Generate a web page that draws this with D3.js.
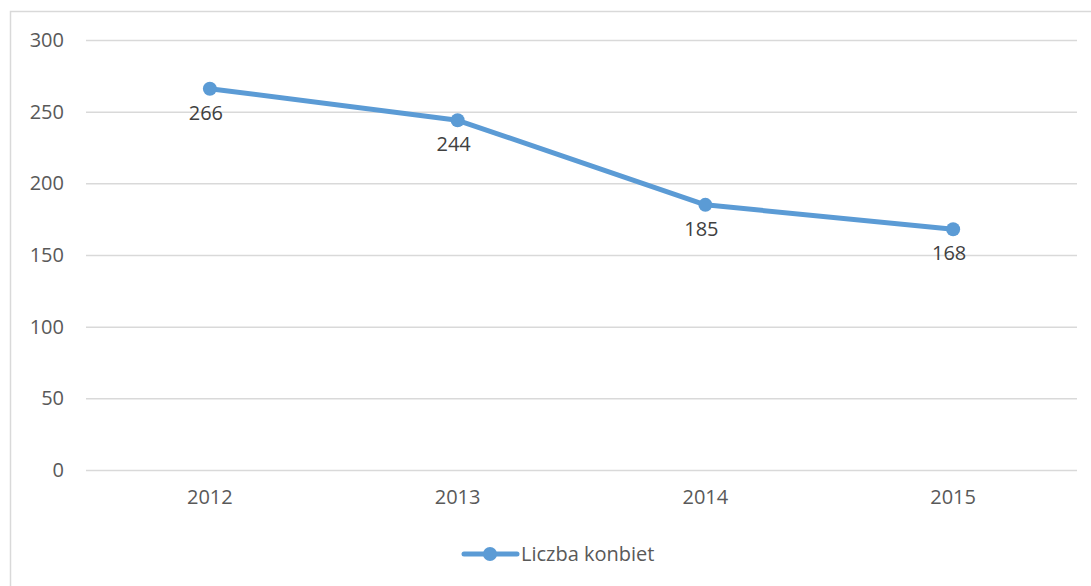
<!DOCTYPE html>
<html><head><meta charset="utf-8">
<script src="https://cdn.jsdelivr.net/npm/d3@7"></script>
<style>body{margin:0;background:#fff}svg{display:block}text{font-family:"Open Sans","Liberation Sans",sans-serif}</style>
</head><body><svg id="c" width="1091" height="586"></svg>
<script>
const categories = ["2012","2013","2014","2015"];
const values = [266,244,185,168];
const yTicks = [0,50,100,150,200,250,300];
const seriesName = "Liczba konbiet";

const svg = d3.select("#c");
const m = {left:86, right:1077, top:40, bottom:470};
const fs = "20px";
svg.append("rect").attr("x",10.5).attr("y",11.5).attr("width",1100).attr("height",600)
  .attr("fill","#fff").attr("stroke","#d9d9d9").attr("stroke-width",1.5);

const x = d3.scaleBand().domain(categories).range([m.left,m.right]);
const y = d3.scaleLinear().domain([0,300]).range([m.bottom,m.top]);

const ya = svg.append("g").attr("transform",`translate(${m.left},0)`)
  .call(d3.axisLeft(y).tickValues(yTicks).tickSize(-(m.right-m.left)).tickPadding(22));
ya.select(".domain").remove();
ya.selectAll("line").attr("stroke","#d9d9d9").attr("stroke-width",1.5);
ya.selectAll("text").attr("fill","#595959").style("font-size",fs);

const xa = svg.append("g").attr("transform",`translate(0,${m.bottom})`)
  .call(d3.axisBottom(x).tickSize(0).tickPadding(20));
xa.select(".domain").remove();
xa.selectAll("text").attr("fill","#595959").style("font-size",fs);

const cx = d => x(d) + x.bandwidth()/2;
const line = d3.line().x((d,i)=>cx(categories[i])).y(d=>y(d));
svg.append("path").datum(values).attr("d",line).attr("fill","none")
  .attr("stroke","#5b9bd5").attr("stroke-width",5).attr("stroke-linejoin","round");
svg.selectAll(".pt").data(values).join("circle").attr("class","pt")
  .attr("cx",(d,i)=>cx(categories[i])).attr("cy",d=>y(d)).attr("r",7).attr("fill","#5b9bd5");
svg.selectAll(".lbl").data(values).join("text").attr("class","lbl")
  .attr("x",(d,i)=>cx(categories[i])-4).attr("y",d=>y(d)+31)
  .attr("text-anchor","middle").attr("fill","#404040").style("font-size",fs).text(d=>d);

const lg = svg.append("g");
lg.append("line").attr("x1",464).attr("x2",517).attr("y1",554).attr("y2",554)
  .attr("stroke","#5b9bd5").attr("stroke-width",5).attr("stroke-linecap","round");
lg.append("circle").attr("cx",490).attr("cy",554).attr("r",7).attr("fill","#5b9bd5");
lg.append("text").attr("x",521).attr("y",561).attr("fill","#595959").style("font-size",fs).text(seriesName);
</script></body></html>
